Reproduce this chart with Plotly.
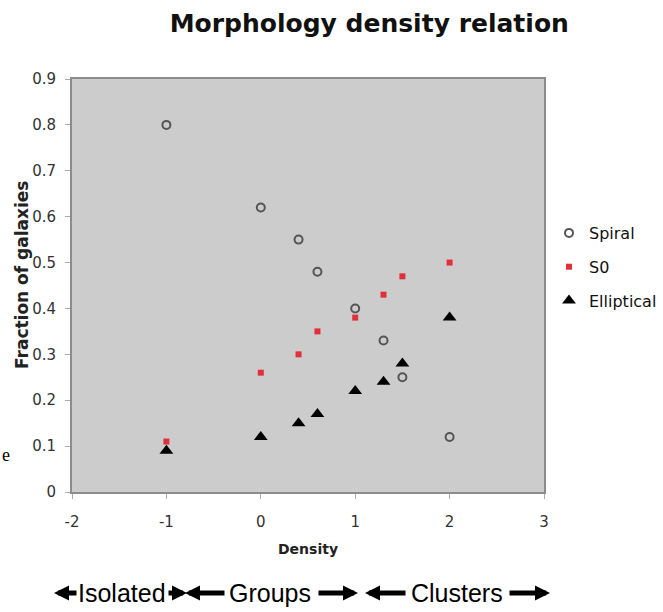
# Morphology density relation - scatter of galaxy fractions vs density
import plotly.graph_objects as go

# Data
density = [-1, 0, 0.4, 0.6, 1, 1.3, 1.5, 2]
spiral = [0.80, 0.62, 0.55, 0.48, 0.40, 0.33, 0.25, 0.12]
s0 = [0.11, 0.26, 0.30, 0.35, 0.38, 0.43, 0.47, 0.50]
elliptical = [0.09, 0.12, 0.15, 0.17, 0.22, 0.24, 0.28, 0.38]

x_ticks = [-2, -1, 0, 1, 2, 3]
y_ticks = [0, 0.1, 0.2, 0.3, 0.4, 0.5, 0.6, 0.7, 0.8, 0.9]

# region labels below the chart (text, centre in px)
regions = ["Isolated", "Groups", "Clusters"]
region_x = [122, 270, 457]
# heavy arrows: (head px, tail px)
arrows = [(54, 78), (187, 167), (185, 226), (358, 317), (365, 407), (550, 508)]

FONT = "DejaVu Sans"
NARROW = "Liberation Sans Narrow, Liberation Sans"
PLOT_BG = "#cccccc"
BORDER = "#8c8c8c"

L, R, T, B = 72, 544, 79, 492   # plot area in px
W = R - L
H = B - T


def px_x(p):
    return (p - L) / W


def px_y(p):
    return (B - p) / H


fig = go.Figure()

fig.add_trace(go.Scatter(
    x=density, y=spiral, mode="markers", name="Spiral", legendgroup="a",
    marker=dict(symbol="circle-open", size=8, color="#555555", line=dict(width=2)),
))
fig.add_trace(go.Scatter(
    x=density, y=s0, mode="markers", name="S0", legendgroup="b",
    marker=dict(symbol="square", size=6, color="#e0303a"),
))
fig.add_trace(go.Scatter(
    x=density, y=elliptical, mode="markers", name="Elliptical", legendgroup="c",
    marker=dict(symbol="triangle-up", size=12, color="black"),
))

fig.update_xaxes(
    range=[-2, 3], tickvals=x_ticks, ticktext=[str(v) for v in x_ticks],
    showgrid=False, zeroline=False,
    showline=True, linecolor=BORDER, linewidth=2, mirror=True,
    ticks="outside", ticklen=5, tickcolor="#aaaaaa", ticklabelstandoff=10,
    tickfont=dict(family=FONT, size=15, color="#333333"),
    title=dict(text="<b>Density</b>", font=dict(family=FONT, size=14, color="#222222"), standoff=14),
)
fig.update_yaxes(
    range=[0, 0.9], tickvals=y_ticks, ticktext=[f"{v:g}" for v in y_ticks],
    showgrid=False, zeroline=False,
    showline=True, linecolor=BORDER, linewidth=2, mirror=True,
    ticks="outside", ticklen=5, tickcolor="#aaaaaa", ticklabelstandoff=6,
    tickfont=dict(family=FONT, size=15, color="#333333"),
)

fig.update_layout(
    width=663, height=612,
    margin=dict(l=L, r=663 - R, t=T, b=612 - B, autoexpand=False),
    paper_bgcolor="white", plot_bgcolor=PLOT_BG,
    title=dict(text="<b>Morphology density relation</b>", x=0.557, xanchor="center",
               y=0.962, yanchor="middle", font=dict(family=FONT, size=25, color="#111111")),
    legend=dict(x=px_x(549), y=px_y(267), xanchor="left", yanchor="middle",
                font=dict(family=FONT, size=16, color="#111111"),
                bgcolor="rgba(0,0,0,0)", tracegroupgap=10, itemwidth=30),
    showlegend=True,
)

# y-axis title as an annotation (sits a little above the axis middle)
fig.add_annotation(
    text="<b>Fraction of galaxies</b>", xref="paper", yref="paper",
    x=px_x(22), y=px_y(275), textangle=-90, showarrow=False,
    xanchor="center", yanchor="middle",
    font=dict(family=FONT, size=17, color="#222222"),
)

for name, cx in zip(regions, region_x):
    fig.add_annotation(
        text=name, xref="paper", yref="paper", x=px_x(cx), y=px_y(593),
        xanchor="center", yanchor="middle", showarrow=False,
        font=dict(family=NARROW, size=25, color="black"),
    )

for head, tail in arrows:
    fig.add_annotation(
        text="", xref="paper", yref="paper", x=px_x(head), y=px_y(593),
        ax=tail - head, ay=0, showarrow=True,
        arrowhead=2, arrowsize=0.6, arrowwidth=5, arrowcolor="black",
    )

# stray letter at left edge of the slide
fig.add_annotation(
    text="e", xref="paper", yref="paper", x=px_x(0), y=px_y(455),
    xanchor="left", yanchor="middle", showarrow=False,
    font=dict(family="Liberation Serif", size=18, color="black"),
)

# drop the default page margin so the figure sits at the window's corner
fig.write_html("out.html", config={"displayModeBar": False},
               post_script="document.body.style.margin='0';")
